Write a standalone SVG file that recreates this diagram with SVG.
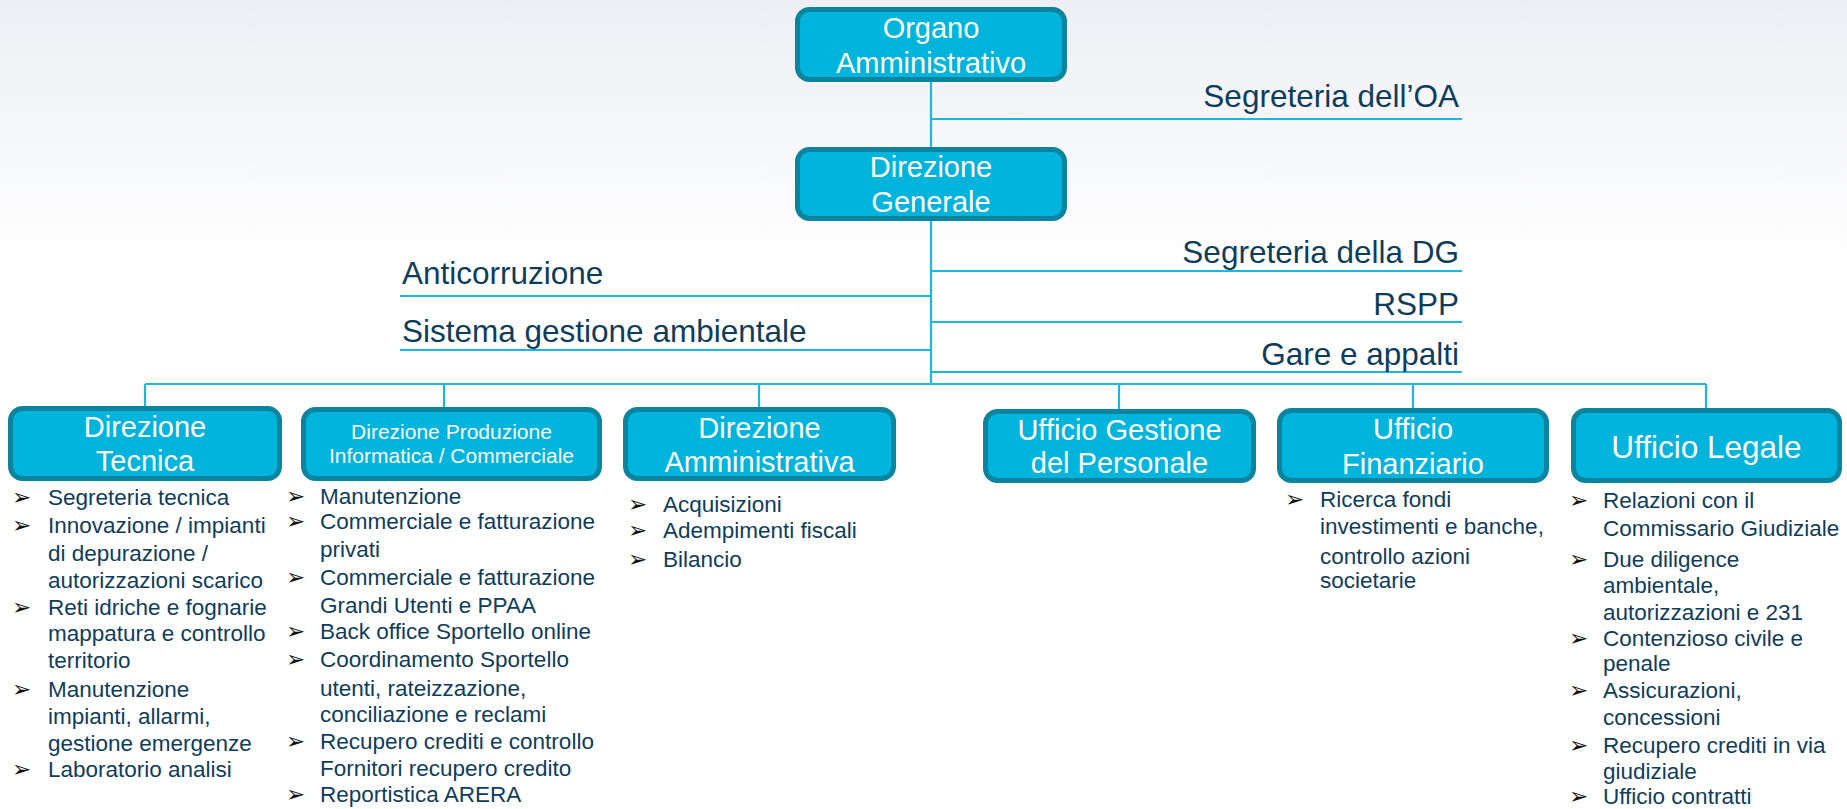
<svg xmlns="http://www.w3.org/2000/svg" width="1847" height="809" viewBox="0 0 1847 809">
<defs>
<linearGradient id="bg" x1="0" y1="0" x2="0" y2="1">
<stop offset="0" stop-color="#EEEFF4"/>
<stop offset="0.33" stop-color="#FFFFFF"/>
<stop offset="1" stop-color="#FFFFFF"/>
</linearGradient>
<style>
.box{fill:#00B4DC;stroke:#0B849F;stroke-width:5}
.t{font-family:"Liberation Sans",Arial,sans-serif;fill:#FFFFFF;font-size:29px;text-anchor:middle}
.ts{font-size:21px}
.tl{font-size:31.5px}
.lbl{font-family:"Liberation Sans",Arial,sans-serif;fill:#0E3D5C;font-size:31.5px}
.end{text-anchor:end}
.li{font-family:"Liberation Sans",Arial,sans-serif;fill:#0E3D5C;font-size:22.5px}
.b{font-family:"DejaVu Sans",sans-serif;fill:#111111;font-size:23px}
.ln{stroke:#1BB7DF;stroke-width:2.2;fill:none}
</style>
</defs>
<rect x="0" y="0" width="1847" height="809" fill="url(#bg)"/>

<g id="connectors" class="ln">
<path d="M931,82 V147"/>
<path d="M931,221 V384"/>
<path d="M931,119 H1462"/>
<path d="M931,271 H1462"/>
<path d="M931,322 H1462"/>
<path d="M931,372 H1462"/>
<path d="M400,296 H931"/>
<path d="M400,350 H931"/>
<path d="M145,384 H1706"/>
<path d="M145,384 V407"/>
<path d="M444,384 V408"/>
<path d="M759,384 V408"/>
<path d="M1119,384 V410"/>
<path d="M1413,384 V409"/>
<path d="M1706,384 V409"/>
</g>

<g id="organo-amministrativo">
<rect class="box" x="797.5" y="9.5" width="267" height="70" rx="12"/>
<text class="t" x="931" y="38">Organo</text>
<text class="t" x="931" y="73">Amministrativo</text>
</g>

<g id="direzione-generale">
<rect class="box" x="797.5" y="149.5" width="267" height="69" rx="12"/>
<text class="t" x="931" y="177">Direzione</text>
<text class="t" x="931" y="212">Generale</text>
</g>

<g id="segreteria-oa"><text class="lbl end" x="1459" y="107">Segreteria dell’OA</text></g>
<g id="segreteria-dg"><text class="lbl end" x="1459" y="263">Segreteria della DG</text></g>
<g id="rspp"><text class="lbl end" x="1459" y="315">RSPP</text></g>
<g id="gare-appalti"><text class="lbl end" x="1459" y="365">Gare e appalti</text></g>
<g id="anticorruzione"><text class="lbl" x="402" y="284">Anticorruzione</text></g>
<g id="sistema-gestione-ambientale"><text class="lbl" x="402" y="342">Sistema gestione ambientale</text></g>

<g id="direzione-tecnica">
<rect class="box" x="10.5" y="408.5" width="269" height="70" rx="12"/>
<text class="t" x="145" y="437">Direzione</text>
<text class="t" x="145" y="471">Tecnica</text>
<text class="b" x="12" y="505">➢</text>
<text class="li" x="48" y="505">Segreteria tecnica</text>
<text class="b" x="12" y="533">➢</text>
<text class="li" x="48" y="533">Innovazione / impianti</text>
<text class="li" x="48" y="561">di depurazione /</text>
<text class="li" x="48" y="588">autorizzazioni scarico</text>
<text class="b" x="12" y="615">➢</text>
<text class="li" x="48" y="615">Reti idriche e fognarie</text>
<text class="li" x="48" y="641">mappatura e controllo</text>
<text class="li" x="48" y="668">territorio</text>
<text class="b" x="12" y="697">➢</text>
<text class="li" x="48" y="697">Manutenzione</text>
<text class="li" x="48" y="724">impianti, allarmi,</text>
<text class="li" x="48" y="751">gestione emergenze</text>
<text class="b" x="12" y="777">➢</text>
<text class="li" x="48" y="777">Laboratorio analisi</text>
</g>

<g id="direzione-produzione">
<rect class="box" x="303.5" y="409.5" width="296" height="69" rx="12"/>
<text class="t ts" x="451.5" y="439">Direzione Produzione</text>
<text class="t ts" x="451.5" y="463">Informatica / Commerciale</text>
<text class="b" x="286" y="504">➢</text>
<text class="li" x="320" y="504">Manutenzione</text>
<text class="b" x="286" y="529">➢</text>
<text class="li" x="320" y="529">Commerciale e fatturazione</text>
<text class="li" x="320" y="557">privati</text>
<text class="b" x="286" y="585">➢</text>
<text class="li" x="320" y="585">Commerciale e fatturazione</text>
<text class="li" x="320" y="613">Grandi Utenti e PPAA</text>
<text class="b" x="286" y="639">➢</text>
<text class="li" x="320" y="639">Back office Sportello online</text>
<text class="b" x="286" y="667">➢</text>
<text class="li" x="320" y="667">Coordinamento Sportello</text>
<text class="li" x="320" y="696">utenti, rateizzazione,</text>
<text class="li" x="320" y="722">conciliazione e reclami</text>
<text class="b" x="286" y="749">➢</text>
<text class="li" x="320" y="749">Recupero crediti e controllo</text>
<text class="li" x="320" y="776">Fornitori recupero credito</text>
<text class="b" x="286" y="802">➢</text>
<text class="li" x="320" y="802">Reportistica ARERA</text>
</g>

<g id="direzione-amministrativa">
<rect class="box" x="625.5" y="409.5" width="268" height="69" rx="12"/>
<text class="t" x="759.5" y="438">Direzione</text>
<text class="t" x="759.5" y="472">Amministrativa</text>
<text class="b" x="628" y="512">➢</text>
<text class="li" x="663" y="512">Acquisizioni</text>
<text class="b" x="628" y="538">➢</text>
<text class="li" x="663" y="538">Adempimenti fiscali</text>
<text class="b" x="628" y="567">➢</text>
<text class="li" x="663" y="567">Bilancio</text>
</g>

<g id="ufficio-gestione-personale">
<rect class="box" x="985.5" y="411.5" width="268" height="69" rx="12"/>
<text class="t" x="1119.5" y="440">Ufficio Gestione</text>
<text class="t" x="1119.5" y="473">del Personale</text>
</g>

<g id="ufficio-finanziario">
<rect class="box" x="1279.5" y="410.5" width="267" height="70" rx="12"/>
<text class="t" x="1413" y="439">Ufficio</text>
<text class="t" x="1413" y="474">Finanziario</text>
<text class="b" x="1285" y="507">➢</text>
<text class="li" x="1320" y="507">Ricerca fondi</text>
<text class="li" x="1320" y="534">investimenti e banche,</text>
<text class="li" x="1320" y="564">controllo azioni</text>
<text class="li" x="1320" y="588">societarie</text>
</g>

<g id="ufficio-legale">
<rect class="box" x="1573.5" y="410.5" width="266" height="70" rx="12"/>
<text class="t tl" x="1706.5" y="458">Ufficio Legale</text>
<text class="b" x="1569" y="508">➢</text>
<text class="li" x="1603" y="508">Relazioni con il</text>
<text class="li" x="1603" y="536">Commissario Giudiziale</text>
<text class="b" x="1569" y="567">➢</text>
<text class="li" x="1603" y="567">Due diligence</text>
<text class="li" x="1603" y="593">ambientale,</text>
<text class="li" x="1603" y="620">autorizzazioni e 231</text>
<text class="b" x="1569" y="646">➢</text>
<text class="li" x="1603" y="646">Contenzioso civile e</text>
<text class="li" x="1603" y="671">penale</text>
<text class="b" x="1569" y="698">➢</text>
<text class="li" x="1603" y="698">Assicurazioni,</text>
<text class="li" x="1603" y="725">concessioni</text>
<text class="b" x="1569" y="753">➢</text>
<text class="li" x="1603" y="753">Recupero crediti in via</text>
<text class="li" x="1603" y="779">giudiziale</text>
<text class="b" x="1569" y="804">➢</text>
<text class="li" x="1603" y="804">Ufficio contratti</text>
</g>
</svg>
